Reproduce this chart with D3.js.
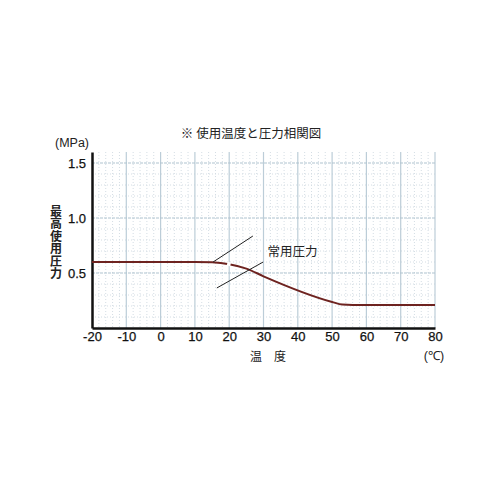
<!DOCTYPE html>
<html><head><meta charset="utf-8">
<script src="https://cdn.jsdelivr.net/npm/d3@7"></script>
<style>body{margin:0;background:#fff}svg{display:block}</style>
</head><body>
<script>
const temps = [-20, 10, 15, 20, 25, 30, 50, 53, 56, 80];
const pressure = [0.6, 0.6, 0.597, 0.58, 0.54, 0.47, 0.237, 0.213, 0.21, 0.21];
const xTicks = [-20, -10, 0, 10, 20, 30, 40, 50, 60, 70, 80];
const yTicks = [0.5, 1.0, 1.5];
const title = "※ 使用温度と圧力相関図";
const yUnit = "(MPa)";
const yLabel = "最高使用圧力";
const xLabel = "温　度";
const xUnit = "(℃)";
const annoLabel = "常用圧力";
const leader1 = [[15.3, 0.6], [26.9, 0.836]];
const leader2 = [[16.4, 0.364], [29.9, 0.6]];
const annoPos = [31.2, 0.69];

const svg = d3.select("body").append("svg").attr("width", 500).attr("height", 500);
const x = d3.scaleLinear().domain([-20, 80]).range([92, 435]);
const y = d3.scaleLinear().domain([0, 1.6]).range([328, 152]);
const font = "'Liberation Sans', Arial, sans-serif";
const jfont = "'Noto Sans CJK JP', sans-serif";

// minor grid
const g = svg.append("g");
g.selectAll(".mv").data(d3.range(-18, 80, 2).filter(v => v % 10 !== 0)).join("line")
  .attr("x1", d => x(d)).attr("x2", d => x(d)).attr("y1", y(1.6)).attr("y2", y(0))
  .attr("stroke", "#d4dde4").attr("stroke-width", 1).attr("stroke-dasharray", "1,2");
g.selectAll(".mh").data(d3.range(1, 16).map(v => v / 10).filter(v => Math.abs(v * 2 - Math.round(v * 2)) > 1e-6)).join("line")
  .attr("x1", x(-20)).attr("x2", x(80)).attr("y1", d => y(d)).attr("y2", d => y(d))
  .attr("stroke", "#d4dde4").attr("stroke-width", 1).attr("stroke-dasharray", "1,2");
// major grid
g.selectAll(".v").data(xTicks.slice(1)).join("line")
  .attr("x1", d => x(d)).attr("x2", d => x(d)).attr("y1", y(1.6)).attr("y2", y(0))
  .attr("stroke", "#bccdd8").attr("stroke-width", 1.2);
g.selectAll(".h").data(yTicks).join("line")
  .attr("x1", x(-20)).attr("x2", x(80)).attr("y1", d => y(d)).attr("y2", d => y(d))
  .attr("stroke", "#b0c3d0").attr("stroke-width", 1.2).attr("stroke-dasharray", "3,1");

// axes
const xAxis = svg.append("g").attr("transform", `translate(0,${y(0)})`)
  .call(d3.axisBottom(x).tickValues(xTicks).tickFormat(d => String(d)).tickSize(0).tickPadding(4));
xAxis.select(".domain").attr("stroke", "#111").attr("stroke-width", 2.5);
xAxis.selectAll("text").attr("font-family", font).attr("font-size", 13).attr("fill", "#111")
  .attr("stroke", "#111").attr("stroke-width", 0.25);
const yAxis = svg.append("g").attr("transform", `translate(${x(-20)},0)`)
  .call(d3.axisLeft(y).tickValues(yTicks).tickFormat(d3.format(".1f")).tickSize(0).tickPadding(6));
yAxis.select(".domain").attr("stroke", "#111").attr("stroke-width", 2.5);
yAxis.selectAll("text").attr("font-family", font).attr("font-size", 13).attr("fill", "#111")
  .attr("stroke", "#111").attr("stroke-width", 0.25);

// data line
const pts = temps.map((t, i) => [t, pressure[i]]);
const line = d3.line().x(d => x(d[0])).y(d => y(d[1])).curve(d3.curveMonotoneX);
svg.append("path").datum(pts).attr("d", line).attr("fill", "none")
  .attr("stroke", "#6e2320").attr("stroke-width", 2);
// small gap in line
svg.append("line").attr("x1", x(19.4)).attr("x2", x(20.4)).attr("y1", y(0.585)).attr("y2", y(0.578))
  .attr("stroke", "#fff").attr("stroke-width", 4);

// leader lines
[leader1, leader2].forEach(l => {
  svg.append("line").attr("x1", x(l[0][0])).attr("y1", y(l[0][1]))
    .attr("x2", x(l[1][0])).attr("y2", y(l[1][1]))
    .attr("stroke", "#222").attr("stroke-width", 1);
});
svg.append("text").attr("x", x(annoPos[0])).attr("y", y(annoPos[1])).attr("dy", "0.35em")
  .attr("font-family", jfont).attr("font-size", 12.5).attr("fill", "#222").text(annoLabel);

// titles
svg.append("text").attr("x", 251).attr("y", 138).attr("text-anchor", "middle")
  .attr("font-family", jfont).attr("font-size", 12.5).attr("fill", "#222").text(title);
svg.append("text").attr("x", 72).attr("y", 147).attr("text-anchor", "middle")
  .attr("font-family", font).attr("font-size", 12.5).attr("fill", "#222").text(yUnit);
svg.append("text").attr("x", 56).attr("y", 205)
  .style("writing-mode", "vertical-rl").style("text-orientation", "upright")
  .attr("letter-spacing", 0.5)
  .attr("font-family", jfont).attr("font-weight", "bold").attr("font-size", 12).attr("fill", "#222").text(yLabel);
svg.append("text").attr("x", 268).attr("y", 361).attr("text-anchor", "middle")
  .attr("font-family", jfont).attr("font-size", 12).attr("fill", "#222").text(xLabel);
svg.append("text").attr("x", 434).attr("y", 360).attr("text-anchor", "middle")
  .attr("font-family", font).attr("font-size", 12.5).attr("fill", "#222").text(xUnit);
</script>
</body></html>
